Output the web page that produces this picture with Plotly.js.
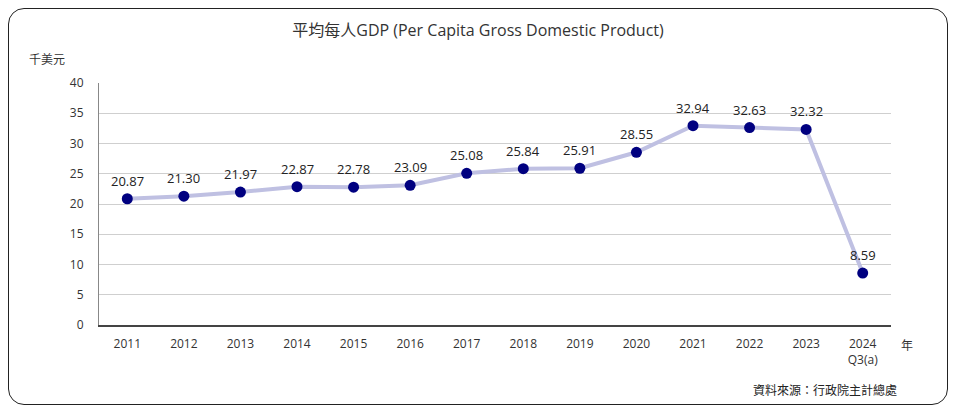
<!DOCTYPE html>
<html>
<head>
<meta charset="utf-8">
<script src="https://cdn.plot.ly/plotly-3.0.1.min.js"></script>
<style>
html,body{margin:0;padding:0;background:#fff;}
#wrap{position:relative;width:956px;height:410px;}
#chart{position:absolute;left:0;top:0;width:956px;height:410px;}
#frame{position:absolute;left:8px;top:8px;width:938px;height:395px;border:1.5px solid #222;border-radius:16px;pointer-events:none;}
</style>
</head>
<body>
<div id="wrap"><div id="chart"></div><div id="frame"></div></div>
<script>
const years = [2011,2012,2013,2014,2015,2016,2017,2018,2019,2020,2021,2022,2023,2024];
const tickLabels = ["2011","2012","2013","2014","2015","2016","2017","2018","2019","2020","2021","2022","2023","2024<br>Q3(a)"];
const gdpPerCapita = [20.87,21.30,21.97,22.87,22.78,23.09,25.08,25.84,25.91,28.55,32.94,32.63,32.32,8.59];
const valueLabels = ["20.87","21.30","21.97","22.87","22.78","23.09","25.08","25.84","25.91","28.55","32.94","32.63","32.32","8.59"];
const yTicks = [0,5,10,15,20,25,30,35,40];

const fontFam = "Open Sans, Noto Sans CJK TC, sans-serif";

const trace = {
  type: "scatter",
  mode: "lines+markers",
  x: years,
  y: gdpPerCapita,
  line: {color: "#bfc0e2", width: 4},
  marker: {color: "#000080", size: 11},
  hoverinfo: "x+y",
  cliponaxis: false
};

const annotations = years.map((c, i) => ({
  x: c, y: gdpPerCapita[i], xref: "x", yref: "y",
  text: valueLabels[i], showarrow: false, yshift: 18,
  font: {family: fontFam, size: 13, color: "#222"}
}));
annotations.push({
  xref: "paper", yref: "paper", x: -0.066, y: 1.055, xanchor: "center", yanchor: "bottom",
  text: "千美元", showarrow: false, font: {family: fontFam, size: 12, color: "#333"}
});
annotations.push({
  xref: "paper", yref: "paper", x: 1.01, y: -0.083, xanchor: "left", yanchor: "middle",
  text: "年", showarrow: false, font: {family: fontFam, size: 12, color: "#333"}
});
annotations.push({
  xref: "paper", yref: "paper", x: 1.01, y: -0.272, xanchor: "right", yanchor: "middle",
  text: "資料來源：行政院主計總處", showarrow: false, font: {family: fontFam, size: 12, color: "#222"}
});

const layout = {
  width: 956, height: 410,
  margin: {l: 99, r: 65, t: 83, b: 85},
  paper_bgcolor: "rgba(0,0,0,0)",
  plot_bgcolor: "#fff",
  showlegend: false,
  title: {text: "平均每人GDP (Per Capita Gross Domestic Product)", x: 0.5, xref: "container", xanchor: "center",
          y: 0.927, yref: "container", yanchor: "middle",
          font: {family: fontFam, size: 16, color: "#333"}},
  xaxis: {
    type: "linear",
    range: [2010.5, 2024.5],
    tickvals: years, ticktext: tickLabels,
    showgrid: false,
    showline: true, linecolor: "#444", linewidth: 1.5,
    zeroline: false,
    ticks: "", tickfont: {family: fontFam, size: 12, color: "#333"},
    ticklabelstandoff: 7,
    fixedrange: true
  },
  yaxis: {
    range: [0, 40],
    tickvals: yTicks,
    showgrid: true, gridcolor: "#cfcfcf", gridwidth: 1,
    showline: true, linecolor: "#888", linewidth: 1,
    zeroline: false,
    ticks: "", tickfont: {family: fontFam, size: 12, color: "#333"},
    ticklabelstandoff: 12,
    fixedrange: true
  },
  annotations: annotations
};

Plotly.newPlot("chart", [trace], layout, {displayModeBar: false, staticPlot: true});
</script>
</body>
</html>
